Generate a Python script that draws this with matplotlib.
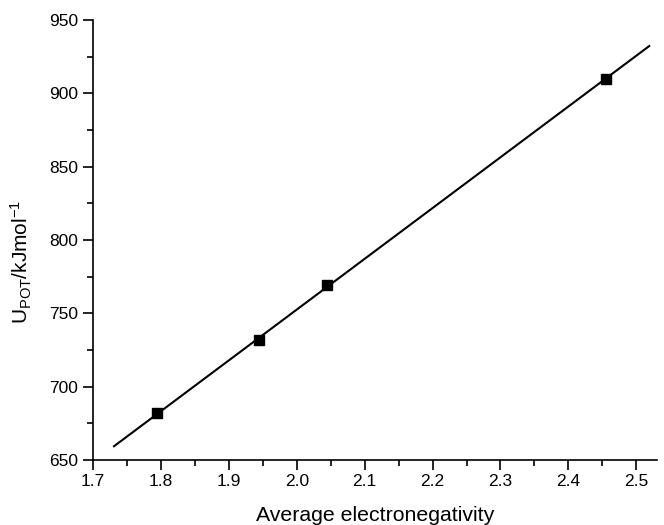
import numpy as np
import matplotlib
matplotlib.use('Agg')
import matplotlib.pyplot as plt
from matplotlib.ticker import MultipleLocator

plt.rcParams['font.family'] = ['Liberation Sans', 'DejaVu Sans']
plt.rcParams['mathtext.fontset'] = 'custom'
plt.rcParams['mathtext.rm'] = 'Liberation Sans'
plt.rcParams['mathtext.it'] = 'Liberation Sans:italic'

# data
electroneg = [1.795, 1.945, 2.045, 2.455]
upot = [682, 732, 769, 910]
fit_range = [1.731, 2.519]

fig = plt.figure(figsize=(6.64, 5.25), dpi=100)
ax = fig.add_axes([0.140, 0.124, 0.849, 0.838])

# linear fit drawn across the range of the original
k, b = np.polyfit(electroneg, upot, 1)
xf = np.array(fit_range)
ax.plot(xf, k*xf + b, c='k', lw=1.5)
ax.plot(electroneg, upot, 's', c='k', markersize=6.5)

ax.set_xlim(1.7, 2.53)
ax.set_ylim(650, 950)
ax.xaxis.set_major_locator(MultipleLocator(0.1))
ax.xaxis.set_minor_locator(MultipleLocator(0.05))
ax.yaxis.set_major_locator(MultipleLocator(50))
ax.yaxis.set_minor_locator(MultipleLocator(25))
ax.spines['top'].set_visible(False)
ax.spines['right'].set_visible(False)
for s in ['left', 'bottom']:
    ax.spines[s].set_linewidth(1.2)
ax.tick_params(which='major', direction='out', length=7, width=1.2, labelsize=12.5)
ax.tick_params(which='minor', direction='out', length=4, width=1.2)

ax.set_xlabel("Average electronegativity", fontsize=15.3, labelpad=12)
ax.set_ylabel(r"U$_{\mathrm{POT}}$/kJmol$^{\mathrm{-1}}$", fontsize=15)
ax.yaxis.set_label_coords(-0.105, 0.45)

fig.savefig('out.png', dpi=100)
